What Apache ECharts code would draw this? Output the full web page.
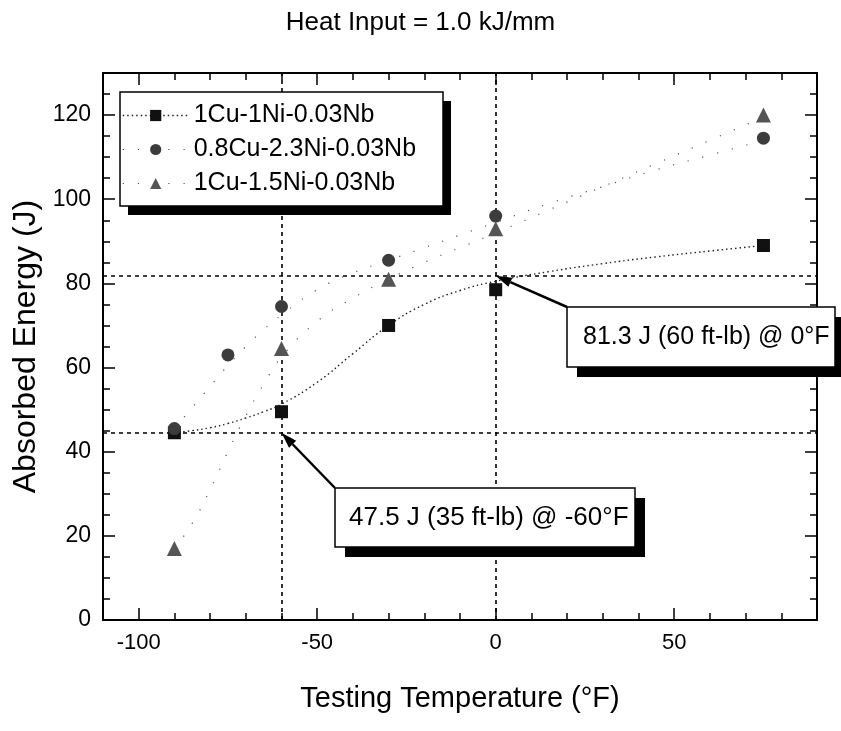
<!DOCTYPE html>
<html>
<head>
<meta charset="utf-8">
<title>Heat Input = 1.0 kJ/mm</title>
<script src="https://cdn.jsdelivr.net/npm/echarts@6/dist/echarts.min.js"></script>
<style>
  html, body { margin: 0; padding: 0; background: #fff; }
  #chart { width: 841px; height: 731px; }
</style>
</head>
<body>
<div id="chart"></div>
<script>
// measured points (temperature in F, energy in J)
const names = ['1Cu-1Ni-0.03Nb', '0.8Cu-2.3Ni-0.03Nb', '1Cu-1.5Ni-0.03Nb']
const temps1 = [-90, -60, -30, 0, 75]
const energy1 = [44.5, 49.5, 70, 78.5, 89]
const temps2 = [-90, -75, -60, -30, 0, 75]
const energy2 = [45.5, 63, 74.5, 85.5, 96, 114.5]
const temps3 = [-90, -60, -30, 0, 75]
const energy3 = [17, 64.5, 81, 93, 120]

// fitted curves
const fitTemps = [-90, -85, -80, -75, -70, -65, -60, -50, -40, -30, -20, -10, 0, 15, 30, 45, 60, 75]
const fit1 = [44.5, 45, 45.7, 46.7, 48, 49.5, 51.3, 56.5, 63.3, 70, 75, 78.3, 80.5, 82.8, 84.7, 86.3, 87.7, 89]
const fit2 = [45.5, 50.5, 55.5, 60.5, 65, 69, 72.5, 78.5, 82.5, 85.5, 88.5, 91.5, 94.5, 99, 103, 107, 110.5, 114]
const fit3 = [17, 23, 31, 40, 48.5, 56, 62.5, 71, 76.5, 81, 85, 88.5, 92, 97.5, 103, 108.5, 114, 119.5]

// reference lines and notes
const refTemps = [-60, 0]
const refEnergy = [44.5, 81.8]
const noteTexts = ['81.3 J (60 ft-lb) @ 0°F', '47.5 J (35 ft-lb) @ -60°F']
const noteTemps = [0, -60]
const noteEnergy = [81.8, 44.5]

// axis ticks
const xMajor = [-100, -50, 0, 50]
const xMinor = [-110, -90, -80, -70, -60, -40, -30, -20, -10, 10, 20, 30, 40, 60, 70, 80, 90]
const yMajor = [0, 20, 40, 60, 80, 100, 120]
const yMinor = [5, 10, 15, 25, 30, 35, 45, 50, 55, 65, 70, 75, 85, 90, 95, 105, 110, 115, 125]

const font = 'Liberation Sans, Arial, Helvetica, sans-serif'

function zip(xs, ys) {
  return xs.map((x, i) => [x, ys[i]])
}

function xAxisOf(position, ticks, len, main) {
  return {
    type: 'value', min: -110, max: 90, position: position,
    axisLine: { show: main, onZero: false, lineStyle: { color: '#000', width: 2 } },
    axisTick: { show: true, inside: true, length: len, customValues: ticks, lineStyle: { color: '#000', width: 1.5 } },
    axisLabel: { show: main && position === 'bottom', customValues: xMajor, fontSize: 22, color: '#000', fontFamily: font, margin: 12 },
    splitLine: { show: false }
  }
}

function yAxisOf(position, ticks, len, main) {
  return {
    type: 'value', min: 0, max: 130, position: position,
    axisLine: { show: main, onZero: false, lineStyle: { color: '#000', width: 2 } },
    axisTick: { show: true, inside: true, length: len, customValues: ticks, lineStyle: { color: '#000', width: 1.5 } },
    axisLabel: { show: main && position === 'left', customValues: yMajor, fontSize: 23, color: '#000', fontFamily: font, margin: 12 },
    splitLine: { show: false }
  }
}

const chart = echarts.init(document.getElementById('chart'))

const xAxes = [
  xAxisOf('bottom', xMajor, 12, true),
  xAxisOf('bottom', xMinor, 7, false),
  xAxisOf('top', xMajor, 12, true),
  xAxisOf('top', xMinor, 7, false)
]
xAxes[0].name = 'Testing Temperature (°F)'
xAxes[0].nameLocation = 'middle'
xAxes[0].nameGap = 64
xAxes[0].nameTextStyle = { fontSize: 29, color: '#000', fontFamily: font }

const yAxes = [
  yAxisOf('left', yMajor, 12, true),
  yAxisOf('left', yMinor, 7, false),
  yAxisOf('right', yMajor, 12, true),
  yAxisOf('right', yMinor, 7, false)
]
yAxes[0].name = 'Absorbed Energy (J)'
yAxes[0].nameLocation = 'middle'
yAxes[0].nameGap = 48
yAxes[0].nameTextStyle = { fontSize: 32, color: '#000', fontFamily: font }

const markerColors = ['#111', '#3c3c3c', '#555']
const symbols = ['rect', 'circle', 'triangle']
const pointData = [zip(temps1, energy1), zip(temps2, energy2), zip(temps3, energy3)]
const fitData = [zip(fitTemps, fit1), zip(fitTemps, fit2), zip(fitTemps, fit3)]
const fitStyles = [
  { color: '#222', width: 1.4, type: [1.5, 3] },
  { color: '#555', width: 1.2, type: [1.2, 14] },
  { color: '#555', width: 1.2, type: [1.2, 14] }
]

const series = []
fitData.forEach((d, i) => {
  series.push({
    name: 'fit' + i,
    type: 'line',
    data: d,
    smooth: true,
    showSymbol: false,
    silent: true,
    lineStyle: fitStyles[i],
    z: 1
  })
})
pointData.forEach((d, i) => {
  series.push({
    name: names[i],
    type: 'line',
    data: d,
    symbol: symbols[i],
    symbolSize: i === 2 ? 15 : 13,
    showAllSymbol: true,
    itemStyle: { color: markerColors[i] },
    lineStyle: { opacity: 0 },
    z: 5
  })
})
// dashed guide lines
series[0].markLine = {
  silent: true,
  symbol: 'none',
  label: { show: false },
  lineStyle: { color: '#000', width: 1.6, type: [4, 4] },
  data: refTemps.map(t => ({ xAxis: t })).concat(refEnergy.map(e => ({ yAxis: e })))
}

chart.setOption({
  animation: false,
  backgroundColor: '#fff',
  title: {
    text: 'Heat Input = 1.0 kJ/mm',
    left: 'center',
    top: 5,
    textStyle: { fontSize: 26, fontWeight: 'normal', color: '#000', fontFamily: font }
  },
  grid: { left: 103, right: 24, top: 73, bottom: 111 },
  legend: {
    orient: 'vertical',
    left: 120,
    top: 92,
    z: 20,
    itemWidth: 66,
    itemHeight: 14,
    itemGap: 9,
    padding: [11, 10, 10, 2],
    textStyle: { fontSize: 25, color: '#000', fontFamily: font },
    data: names.map((n, i) => ({
      name: n,
      lineStyle: Object.assign({ opacity: 1 }, fitStyles[i])
    }))
  },
  xAxis: xAxes,
  yAxis: yAxes,
  series: series
})

// legend frame, annotation boxes, arrows
const elements = [
  { type: 'rect', z: 10, shape: { x: 128, y: 101, width: 323, height: 114 }, style: { fill: '#000' } },
  { type: 'rect', z: 11, shape: { x: 120, y: 92, width: 323, height: 114 }, style: { fill: '#fff', stroke: '#000', lineWidth: 1.5 } }
]
const boxes = [
  { x: 567, y: 307, w: 268, h: 60, pad: 16, size: 25 },
  { x: 335, y: 488, w: 300, h: 59, pad: 14, size: 26 }
]
boxes.forEach((b, i) => {
  const tip = chart.convertToPixel({ gridIndex: 0 }, [noteTemps[i], noteEnergy[i]])
  const dx = tip[0] - b.x
  const dy = tip[1] - b.y
  const len = Math.sqrt(dx * dx + dy * dy)
  const ux = dx / len
  const uy = dy / len
  const headLen = 16
  const headW = 5
  const bx = tip[0] - ux * headLen
  const by = tip[1] - uy * headLen
  elements.push({
    type: 'line', z: 100,
    shape: { x1: b.x, y1: b.y, x2: bx, y2: by },
    style: { stroke: '#000', lineWidth: 2.5 }
  })
  elements.push({
    type: 'polygon', z: 100,
    shape: { points: [[tip[0], tip[1]], [bx - uy * headW, by + ux * headW], [bx + uy * headW, by - ux * headW]] },
    style: { fill: '#000' }
  })
  elements.push({
    type: 'rect', z: 100,
    shape: { x: b.x + 10, y: b.y + 10, width: b.w, height: b.h },
    style: { fill: '#000' }
  })
  elements.push({
    type: 'rect', z: 101,
    shape: { x: b.x, y: b.y, width: b.w, height: b.h },
    style: { fill: '#fff', stroke: '#000', lineWidth: 1.5 }
  })
  elements.push({
    type: 'text', z: 102,
    x: b.x + b.pad,
    y: b.y + b.h / 2,
    style: { text: noteTexts[i], fontSize: b.size, fontFamily: font, fill: '#000', align: 'left', verticalAlign: 'middle' }
  })
})
chart.setOption({ graphic: { elements: elements } })
</script>
</body>
</html>
